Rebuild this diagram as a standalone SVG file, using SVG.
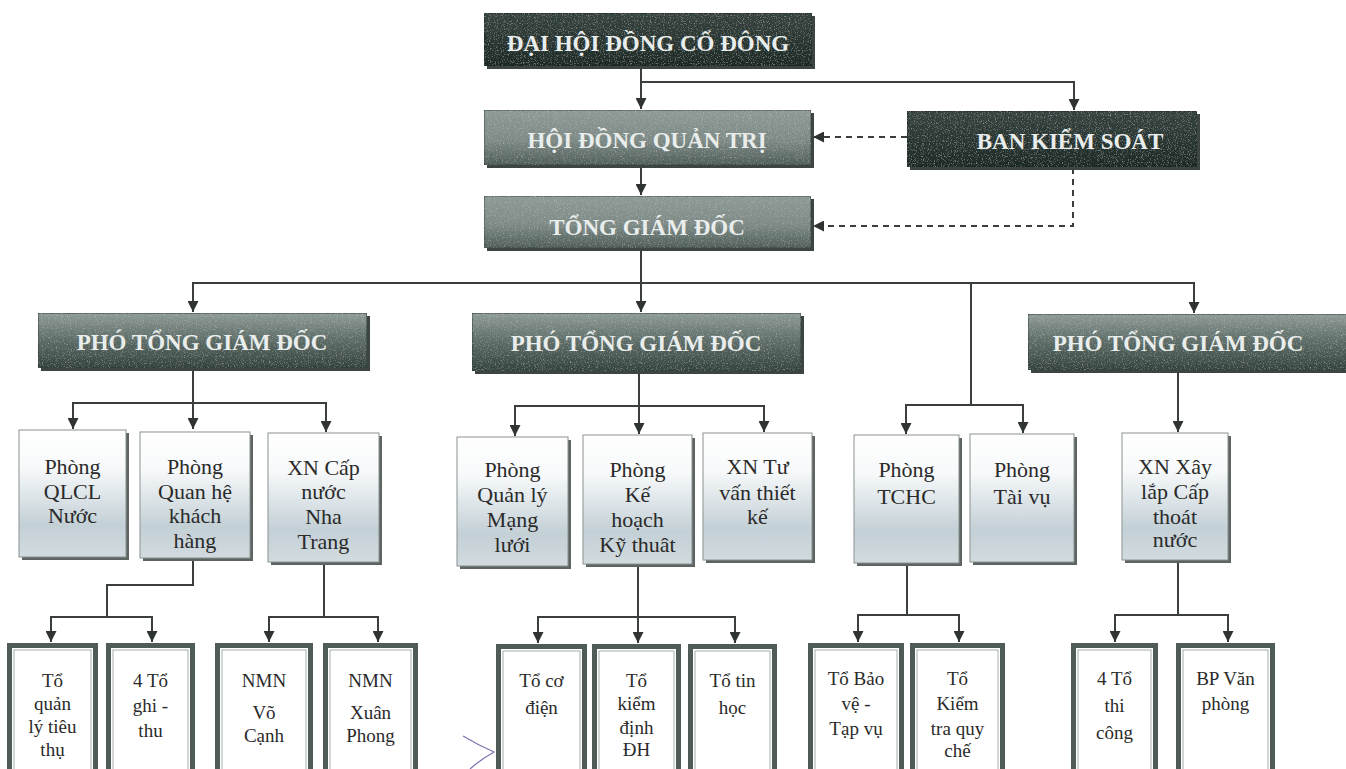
<svg xmlns="http://www.w3.org/2000/svg" width="1346" height="769" viewBox="0 0 1346 769">
<defs>
<style>
.dk{fill:url(#gDark);stroke:#1e2926;stroke-width:1}
.md{fill:url(#gMid);stroke:#3b4844;stroke-width:1}
.pt{fill:url(#gPt);stroke:#2f3c38;stroke-width:1}
.sh{fill:#3d4542}
.r2{fill:url(#gLight);stroke:#8a9290;stroke-width:1}
.r2s{fill:#5d6462}
.r3{fill:#ffffff;stroke:#4e5b57;stroke-width:5}
.r3i{fill:none;stroke:#a6b0ad;stroke-width:1}
text{font-family:'Liberation Serif','Times New Roman','DejaVu Serif',serif}
.ht{font-weight:bold;fill:#e9edeb;text-anchor:middle;font-size:23px}
.t2{fill:#2a2a2a;text-anchor:middle;font-size:22px}
.t3{fill:#2a2a2a;text-anchor:middle;font-size:19px}
.ln{fill:none;stroke:#3a3e3d;stroke-width:2}
.ds{fill:none;stroke:#3a3e3d;stroke-width:2;stroke-dasharray:6 5}
</style>
<filter id="grain" x="0" y="0" width="1" height="1">
<feTurbulence type="fractalNoise" baseFrequency="0.85" numOctaves="2" seed="4" result="n"/>
<feColorMatrix in="n" type="matrix" values="0 0 0 0 1  0 0 0 0 1  0 0 0 0 1  0.7 0 0 0 -0.38" result="w"/>
<feComposite in="w" in2="SourceGraphic" operator="in" result="wi"/>
<feMerge><feMergeNode in="SourceGraphic"/><feMergeNode in="wi"/></feMerge>
</filter>
<linearGradient id="gDark" x1="0" y1="0" x2="0" y2="1">
<stop offset="0" stop-color="#364440"/><stop offset="0.5" stop-color="#2a3733"/><stop offset="1" stop-color="#1d2926"/>
</linearGradient>
<linearGradient id="gMid" x1="0" y1="0" x2="0" y2="1">
<stop offset="0" stop-color="#8e9a96"/><stop offset="0.55" stop-color="#7d8a86"/><stop offset="1" stop-color="#505e59"/>
</linearGradient>
<linearGradient id="gPt" x1="0" y1="0" x2="0" y2="1">
<stop offset="0" stop-color="#8f9b97"/><stop offset="0.45" stop-color="#61706b"/><stop offset="1" stop-color="#34433e"/>
</linearGradient>
<linearGradient id="gLight" x1="0" y1="0" x2="0" y2="1">
<stop offset="0" stop-color="#ffffff"/><stop offset="0.3" stop-color="#f7f9fa"/><stop offset="0.75" stop-color="#c3d0d6"/><stop offset="1" stop-color="#d2dbdf"/>
</linearGradient>
<marker id="ar" viewBox="0 0 10 10" refX="10" refY="5" markerWidth="11" markerHeight="11" markerUnits="userSpaceOnUse" orient="auto">
<path d="M0,0 L10,5 L0,10 Z" fill="#2f3432"/>
</marker>
</defs>
<rect width="1346" height="769" fill="#ffffff"/>

<g id="connectors">
<path class="ln" d="M641,66 V109" marker-end="url(#ar)"/>
<path class="ln" d="M641,82 H1074 V110" marker-end="url(#ar)"/>
<path class="ln" d="M641,165 V195" marker-end="url(#ar)"/>
<path class="ds" d="M907,137 H813" marker-end="url(#ar)"/>
<path class="ds" d="M1073,168 V226 H813" marker-end="url(#ar)"/>
<path class="ln" d="M641,248 V312" marker-end="url(#ar)"/>
<path class="ln" d="M193,312 V283 H1194 V313" marker-end="url(#ar)"/>
<path class="ln" d="M193,283 V312" marker-end="url(#ar)"/>
<path class="ln" d="M971,283 V405"/>
<path class="ln" d="M906,434 V405 H1023 V433" marker-end="url(#ar)"/>
<path class="ln" d="M906,405 V434" marker-end="url(#ar)"/>
<path class="ln" d="M193,368 V429" marker-end="url(#ar)"/>
<path class="ln" d="M73,429 V403 H326 V432" marker-end="url(#ar)"/>
<path class="ln" d="M73,403 V429" marker-end="url(#ar)"/>
<path class="ln" d="M639,371 V434" marker-end="url(#ar)"/>
<path class="ln" d="M515,436 V406 H764 V432" marker-end="url(#ar)"/>
<path class="ln" d="M515,406 V436" marker-end="url(#ar)"/>
<path class="ln" d="M1178,370 V432" marker-end="url(#ar)"/>
<path class="ln" d="M193,558 V585 H107 V617"/>
<path class="ln" d="M51,642 V617 H152 V642" marker-end="url(#ar)"/>
<path class="ln" d="M51,617 V642" marker-end="url(#ar)"/>
<path class="ln" d="M324,562 V617"/>
<path class="ln" d="M269,642 V617 H378 V642" marker-end="url(#ar)"/>
<path class="ln" d="M269,617 V642" marker-end="url(#ar)"/>
<path class="ln" d="M638,564 V643" marker-end="url(#ar)"/>
<path class="ln" d="M538,643 V617 H735 V643" marker-end="url(#ar)"/>
<path class="ln" d="M538,617 V643" marker-end="url(#ar)"/>
<path class="ln" d="M907,563 V615"/>
<path class="ln" d="M858,642 V615 H959 V642" marker-end="url(#ar)"/>
<path class="ln" d="M858,615 V642" marker-end="url(#ar)"/>
<path class="ln" d="M1178,560 V615"/>
<path class="ln" d="M1115,642 V615 H1228 V642" marker-end="url(#ar)"/>
<path class="ln" d="M1115,615 V642" marker-end="url(#ar)"/>
</g>

<g id="n-dhdcd">
<rect class="sh" x="487" y="16" width="328" height="53"/>
<rect class="dk" x="484" y="13" width="328" height="53" filter="url(#grain)"/>
<text class="ht" x="648" y="51">ĐẠI HỘI ĐỒNG CỔ ĐÔNG</text>
</g>
<g id="n-hdqt">
<rect class="sh" x="487" y="113" width="327" height="55"/>
<rect class="md" x="484" y="110" width="327" height="55" filter="url(#grain)"/>
<text class="ht" x="647" y="148">HỘI ĐỒNG QUẢN TRỊ</text>
</g>
<g id="n-bks">
<rect class="sh" x="910" y="114" width="290" height="56"/>
<rect class="dk" x="907" y="111" width="290" height="56" filter="url(#grain)"/>
<text class="ht" x="1070" y="149">BAN KIỂM SOÁT</text>
</g>
<g id="n-tgd">
<rect class="sh" x="487" y="199" width="327" height="52"/>
<rect class="md" x="484" y="196" width="327" height="52" filter="url(#grain)"/>
<text class="ht" x="647" y="235">TỔNG GIÁM ĐỐC</text>
</g>
<g id="n-ptgd1">
<rect class="sh" x="41" y="316" width="329" height="55"/>
<rect class="pt" x="38" y="313" width="329" height="55" filter="url(#grain)"/>
<text class="ht" x="202" y="350">PHÓ TỔNG GIÁM ĐỐC</text>
</g>
<g id="n-ptgd2">
<rect class="sh" x="475" y="316" width="329" height="58"/>
<rect class="pt" x="472" y="313" width="329" height="58" filter="url(#grain)"/>
<text class="ht" x="636" y="351">PHÓ TỔNG GIÁM ĐỐC</text>
</g>
<g id="n-ptgd3">
<rect class="sh" x="1031" y="317" width="330" height="56"/>
<rect class="pt" x="1028" y="314" width="330" height="56" filter="url(#grain)"/>
<text class="ht" x="1178" y="351">PHÓ TỔNG GIÁM ĐỐC</text>
</g>

<g id="n-qlcl">
<rect class="r2s" x="22" y="433" width="107" height="127"/>
<rect class="r2" x="19" y="430" width="107" height="127"/>
<text class="t2" x="72.5" y="474"><tspan x="72.5">Phòng</tspan><tspan x="72.5" dy="25">QLCL</tspan><tspan x="72.5" dy="24">Nước</tspan></text>
</g>
<g id="n-qhkh">
<rect class="r2s" x="143" y="435" width="110" height="126"/>
<rect class="r2" x="140" y="432" width="110" height="126"/>
<text class="t2" x="195" y="474"><tspan x="195">Phòng</tspan><tspan x="195" dy="25">Quan hệ</tspan><tspan x="195" dy="24">khách</tspan><tspan x="195" dy="25">hàng</tspan></text>
</g>
<g id="n-xncn">
<rect class="r2s" x="271" y="436" width="111" height="129"/>
<rect class="r2" x="268" y="433" width="111" height="129"/>
<text class="t2" x="323.5" y="475"><tspan x="323.5">XN Cấp</tspan><tspan x="323.5" dy="24">nước</tspan><tspan x="323.5" dy="25">Nha</tspan><tspan x="323.5" dy="25">Trang</tspan></text>
</g>
<g id="n-qlml">
<rect class="r2s" x="460" y="440" width="111" height="129"/>
<rect class="r2" x="457" y="437" width="111" height="129"/>
<text class="t2" x="512.5" y="477"><tspan x="512.5">Phòng</tspan><tspan x="512.5" dy="25">Quản lý</tspan><tspan x="512.5" dy="25">Mạng</tspan><tspan x="512.5" dy="25">lưới</tspan></text>
</g>
<g id="n-khkt">
<rect class="r2s" x="586" y="438" width="109" height="129"/>
<rect class="r2" x="583" y="435" width="109" height="129"/>
<text class="t2" x="637.5" y="477"><tspan x="637.5">Phòng</tspan><tspan x="637.5" dy="25">Kế</tspan><tspan x="637.5" dy="25">hoạch</tspan><tspan x="637.5" dy="25">Kỹ thuât</tspan></text>
</g>
<g id="n-xntv">
<rect class="r2s" x="706" y="436" width="109" height="127"/>
<rect class="r2" x="703" y="433" width="109" height="127"/>
<text class="t2" x="757.5" y="474"><tspan x="757.5">XN Tư</tspan><tspan x="757.5" dy="26">vấn thiết</tspan><tspan x="757.5" dy="24">kế</tspan></text>
</g>
<g id="n-tchc">
<rect class="r2s" x="857" y="438" width="105" height="128"/>
<rect class="r2" x="854" y="435" width="105" height="128"/>
<text class="t2" x="906.5" y="477"><tspan x="906.5">Phòng</tspan><tspan x="906.5" dy="27">TCHC</tspan></text>
</g>
<g id="n-taivu">
<rect class="r2s" x="973" y="437" width="104" height="128"/>
<rect class="r2" x="970" y="434" width="104" height="128"/>
<text class="t2" x="1022" y="477"><tspan x="1022">Phòng</tspan><tspan x="1022" dy="27">Tài vụ</tspan></text>
</g>
<g id="n-xnxl">
<rect class="r2s" x="1125" y="436" width="106" height="127"/>
<rect class="r2" x="1122" y="433" width="106" height="127"/>
<text class="t2" x="1175" y="474"><tspan x="1175">XN Xây</tspan><tspan x="1175" dy="25">lắp Cấp</tspan><tspan x="1175" dy="25">thoát</tspan><tspan x="1175" dy="23">nước</tspan></text>
</g>

<g id="n-toqlt">
<rect class="r3" x="9.5" y="645.5" width="86" height="140"/>
<rect class="r3i" x="14" y="650" width="77" height="130"/>
<text class="t3" x="52.5" y="687"><tspan x="52.5">Tổ</tspan><tspan x="52.5" dy="23">quản</tspan><tspan x="52.5" dy="23">lý tiêu</tspan><tspan x="52.5" dy="23">thụ</tspan></text>
</g>
<g id="n-toghithu">
<rect class="r3" x="108.5" y="645.5" width="84" height="140"/>
<rect class="r3i" x="113" y="650" width="75" height="130"/>
<text class="t3" x="150.5" y="687"><tspan x="150.5">4 Tổ</tspan><tspan x="150.5" dy="25">ghi -</tspan><tspan x="150.5" dy="25">thu</tspan></text>
</g>
<g id="n-nmnvc">
<rect class="r3" x="217.5" y="645.5" width="93" height="140"/>
<rect class="r3i" x="222" y="650" width="84" height="130"/>
<text class="t3" x="264" y="687"><tspan x="264">NMN</tspan><tspan x="264" dy="32">Võ</tspan><tspan x="264" dy="23">Cạnh</tspan></text>
</g>
<g id="n-nmnxp">
<rect class="r3" x="325.5" y="645.5" width="90" height="140"/>
<rect class="r3i" x="330" y="650" width="81" height="130"/>
<text class="t3" x="370.5" y="687"><tspan x="370.5">NMN</tspan><tspan x="370.5" dy="32">Xuân</tspan><tspan x="370.5" dy="23">Phong</tspan></text>
</g>
<g id="n-tocodien">
<rect class="r3" x="498.5" y="646.5" width="86" height="140"/>
<rect class="r3i" x="503" y="651" width="77" height="130"/>
<text class="t3" x="541.5" y="687"><tspan x="541.5">Tổ cơ</tspan><tspan x="541.5" dy="27">điện</tspan></text>
</g>
<g id="n-tokd">
<rect class="r3" x="594.5" y="646.5" width="84" height="140"/>
<rect class="r3i" x="599" y="651" width="75" height="130"/>
<text class="t3" x="636.5" y="687"><tspan x="636.5">Tổ</tspan><tspan x="636.5" dy="23">kiểm</tspan><tspan x="636.5" dy="24">định</tspan><tspan x="636.5" dy="22">ĐH</tspan></text>
</g>
<g id="n-totinhoc">
<rect class="r3" x="690.5" y="646.5" width="84" height="140"/>
<rect class="r3i" x="695" y="651" width="75" height="130"/>
<text class="t3" x="732.5" y="687"><tspan x="732.5">Tổ tin</tspan><tspan x="732.5" dy="27">học</tspan></text>
</g>
<g id="n-tobv">
<rect class="r3" x="810.5" y="645.5" width="91" height="140"/>
<rect class="r3i" x="815" y="650" width="82" height="130"/>
<text class="t3" x="856" y="685"><tspan x="856">Tổ Bảo</tspan><tspan x="856" dy="25">vệ -</tspan><tspan x="856" dy="25">Tạp vụ</tspan></text>
</g>
<g id="n-tokt">
<rect class="r3" x="912.5" y="645.5" width="90" height="140"/>
<rect class="r3i" x="917" y="650" width="81" height="130"/>
<text class="t3" x="957.5" y="685"><tspan x="957.5">Tổ</tspan><tspan x="957.5" dy="25">Kiểm</tspan><tspan x="957.5" dy="25">tra quy</tspan><tspan x="957.5" dy="22">chế</tspan></text>
</g>
<g id="n-tothicong">
<rect class="r3" x="1073.5" y="645.5" width="82" height="140"/>
<rect class="r3i" x="1078" y="650" width="73" height="130"/>
<text class="t3" x="1114.5" y="685"><tspan x="1114.5">4 Tổ</tspan><tspan x="1114.5" dy="27">thi</tspan><tspan x="1114.5" dy="27">công</tspan></text>
</g>
<g id="n-bpvp">
<rect class="r3" x="1178.5" y="645.5" width="94" height="140"/>
<rect class="r3i" x="1183" y="650" width="85" height="130"/>
<text class="t3" x="1225.5" y="685"><tspan x="1225.5">BP Văn</tspan><tspan x="1225.5" dy="25">phòng</tspan></text>
</g>

<path d="M463,736 Q478,745 494,752 Q480,760 470,769" fill="none" stroke="#7a74b0" stroke-width="1.2"/>
</svg>
